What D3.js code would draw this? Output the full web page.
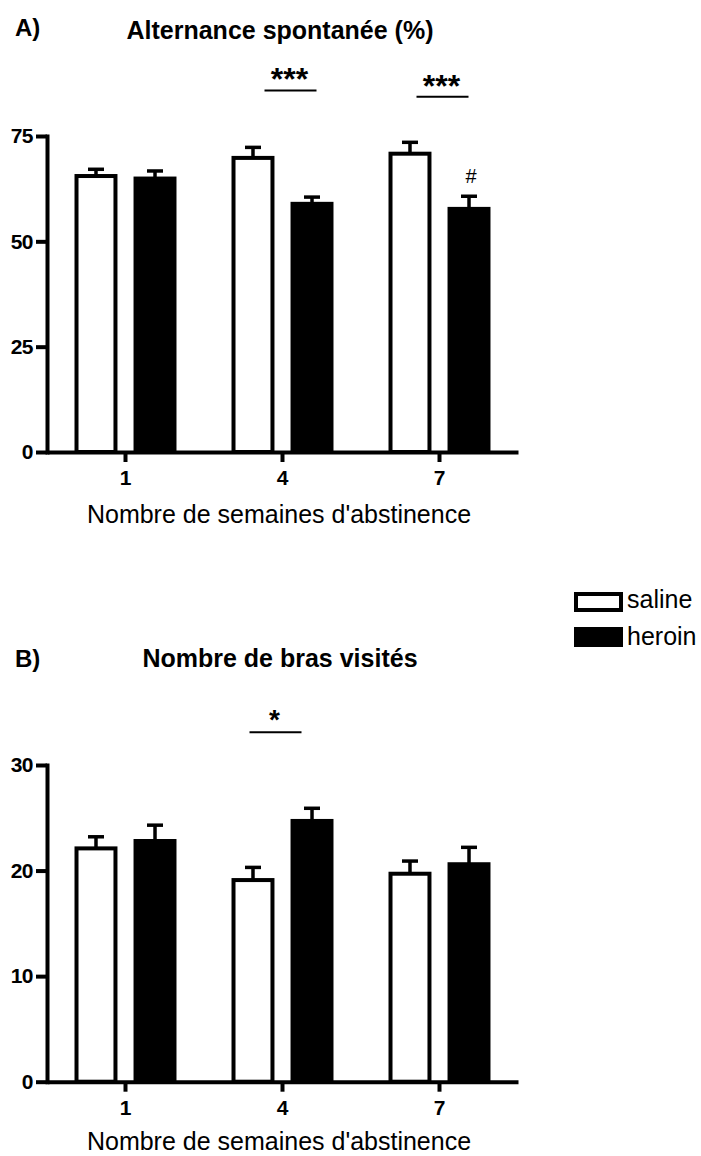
<!DOCTYPE html>
<html>
<head>
<meta charset="utf-8">
<script src="https://cdn.jsdelivr.net/npm/d3@7"></script>
<style>
  html, body { margin: 0; padding: 0; background: #fff; }
  svg { display: block; }
  text { font-family: "Liberation Sans", Arial, Helvetica, sans-serif; fill: #000; }
</style>
</head>
<body>
<script>
// ---------------- data ----------------
const weeks = ["1", "4", "7"];
const seriesNames = ["saline", "heroin"];

// A) Alternance spontanée (%)
const altSalineMean = [65.5, 69.8, 70.8];
const altSalineSem  = [1.6, 2.5, 2.7];
const altHeroinMean = [64.9, 58.9, 57.7];
const altHeroinSem  = [1.8, 1.6, 3.0];
const altTicks = [0, 25, 50, 75];
const altSig = [
  { week: "4", label: "***", level: 85.8 },
  { week: "7", label: "***", level: 84.3 }
];
const altHash = [{ week: "7", series: "heroin", label: "#" }];

// B) Nombre de bras visités
const brasSalineMean = [22.1, 19.1, 19.7];
const brasSalineSem  = [1.1, 1.2, 1.2];
const brasHeroinMean = [22.8, 24.7, 20.6];
const brasHeroinSem  = [1.5, 1.2, 1.6];
const brasTicks = [0, 10, 20, 30];
const brasSig = [{ week: "4", label: "*", level: 33.1 }];
const brasHash = [];

const xTitle = "Nombre de semaines d'abstinence";

// ---------------- layout ----------------
const W = 701, H = 1156;
const svg = d3.select("body").append("svg").attr("width", W).attr("height", H);
svg.append("rect").attr("width", W).attr("height", H).attr("fill", "#fff");

const X0 = 47, X1 = 518;
const fillOf = { saline: "#fff", heroin: "#000" };

function buildRows(salM, salS, herM, herS) {
  const rows = [];
  weeks.forEach((w, i) => {
    rows.push({ week: w, series: "saline", mean: salM[i], sem: salS[i] });
    rows.push({ week: w, series: "heroin", mean: herM[i], sem: herS[i] });
  });
  return rows;
}

function drawPanel(cfg) {
  const g = svg.append("g");
  const x0 = d3.scaleBand().domain(weeks).range([X0, X1]).padding(0);
  const x1 = d3.scaleBand().domain(seriesNames).range([0, x0.bandwidth()])
    .paddingInner(0.34).paddingOuter(0.5);
  const y = d3.scaleLinear().domain([0, cfg.ticks[cfg.ticks.length - 1]])
    .range([cfg.bottom, cfg.top]);

  const rows = buildRows(cfg.salM, cfg.salS, cfg.herM, cfg.herS);

  // bars
  g.selectAll("rect.bar").data(rows).enter().append("rect")
    .attr("class", "bar")
    .attr("x", d => x0(d.week) + x1(d.series))
    .attr("y", d => y(d.mean))
    .attr("width", x1.bandwidth())
    .attr("height", d => y(0) - y(d.mean))
    .attr("fill", d => fillOf[d.series])
    .attr("stroke", "#000")
    .attr("stroke-width", 4);

  // error bars
  const eb = g.selectAll("g.eb").data(rows).enter().append("g").attr("class", "eb");
  const cx = d => x0(d.week) + x1(d.series) + x1.bandwidth() / 2;
  eb.append("line")
    .attr("x1", cx).attr("x2", cx)
    .attr("y1", d => y(d.mean)).attr("y2", d => y(d.mean + d.sem))
    .attr("stroke", "#000").attr("stroke-width", 3.5);
  eb.append("line")
    .attr("x1", d => cx(d) - 8).attr("x2", d => cx(d) + 8)
    .attr("y1", d => y(d.mean + d.sem)).attr("y2", d => y(d.mean + d.sem))
    .attr("stroke", "#000").attr("stroke-width", 3.5);

  // axes
  const yAxis = d3.axisLeft(y).tickValues(cfg.ticks).tickSize(11).tickSizeOuter(0).tickPadding(3);
  const ya = g.append("g").attr("transform", `translate(${X0},0)`).call(yAxis);
  ya.select(".domain").attr("stroke-width", 4).attr("stroke-linecap", "square");
  ya.selectAll(".tick line").attr("stroke-width", 4);
  ya.selectAll(".tick text").attr("font-size", 21).attr("font-weight", "bold")
    .attr("letter-spacing", -0.5)
    .attr("font-family", "'Liberation Sans', Arial, sans-serif").attr("fill", "#000");

  const xAxis = d3.axisBottom(x0).tickSize(10).tickSizeOuter(0).tickPadding(8);
  const xa = g.append("g").attr("transform", `translate(0,${cfg.bottom})`).call(xAxis);
  xa.select(".domain").attr("stroke-width", 4);
  xa.selectAll(".tick line").attr("stroke-width", 4);
  xa.selectAll(".tick text").attr("font-size", 21).attr("font-weight", "bold")
    .attr("font-family", "'Liberation Sans', Arial, sans-serif").attr("fill", "#000");

  // axis title
  g.append("text").attr("x", 279).attr("y", cfg.xTitleY)
    .attr("text-anchor", "middle").attr("font-size", 25).text(xTitle);

  // panel title + letter
  g.append("text").attr("x", 280).attr("y", cfg.titleY)
    .attr("text-anchor", "middle").attr("font-size", 25).attr("font-weight", "bold")
    .text(cfg.title);
  g.append("text").attr("x", 15).attr("y", cfg.letterY)
    .attr("font-size", 24).attr("font-weight", "bold").text(cfg.letter);

  // significance annotations
  cfg.sig.forEach((s, i) => {
    const c = x0(s.week) + x0.bandwidth() / 2 + cfg.sigDx[i];
    const ly = y(s.level);
    g.append("line").attr("x1", c - 26).attr("x2", c + 26)
      .attr("y1", ly).attr("y2", ly).attr("stroke", "#000").attr("stroke-width", 2);
    g.append("text").attr("x", c - 1).attr("y", ly - cfg.starLift)
      .attr("text-anchor", "middle").attr("font-weight", "bold")
      .attr("font-size", cfg.starSize).text(s.label);
  });

  cfg.hash.forEach(h => {
    const r = rows.find(d => d.week === h.week && d.series === h.series);
    g.append("text").attr("x", cx(r) + 2).attr("y", y(r.mean + r.sem) - 13)
      .attr("text-anchor", "middle").attr("font-size", 20).text(h.label);
  });
}

drawPanel({
  top: 136, bottom: 452, ticks: altTicks,
  salM: altSalineMean, salS: altSalineSem, herM: altHeroinMean, herS: altHeroinSem,
  title: "Alternance spontanée (%)", letter: "A)", titleY: 39, letterY: 36, xTitleY: 523,
  sig: altSig, sigDx: [8, 3], starSize: 32, starLift: 0, hash: altHash
});

drawPanel({
  top: 765, bottom: 1081.7, ticks: brasTicks,
  salM: brasSalineMean, salS: brasSalineSem, herM: brasHeroinMean, herS: brasHeroinSem,
  title: "Nombre de bras visités", letter: "B)", titleY: 667, letterY: 667, xTitleY: 1150,
  sig: brasSig, sigDx: [-7], starSize: 28, starLift: 3, hash: brasHash
});

// legend
const legend = svg.append("g");
seriesNames.forEach((s, i) => {
  const ly = [594, 629][i];
  legend.append("rect").attr("x", 576).attr("y", ly).attr("width", 45).attr("height", 16)
    .attr("fill", fillOf[s]).attr("stroke", "#000").attr("stroke-width", 4);
  legend.append("text").attr("x", 627).attr("y", [608, 645][i])
    .attr("font-size", 25).text(s);
});
</script>
</body>
</html>
